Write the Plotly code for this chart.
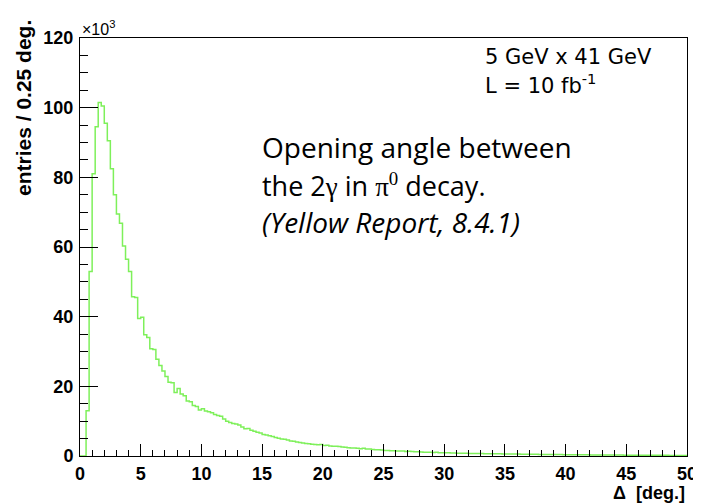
import plotly.graph_objects as go

# Histogram: entries per 0.25 deg bin, in units of 10^3
bin_width = 0.25
counts = [
    0, 0, 13, 53, 81, 94.5, 101.5, 100.5, 95.5, 90.5,
    82.5, 75, 69.5, 66.8, 60.3, 56.5, 53, 45.7, 45.5, 39.5,
    39.8, 34.8, 34.0, 30.8, 30.6, 27.8, 26.0, 24.4, 22.8, 21.2,
    21.0, 18.2, 19.4, 17.8, 17.3, 15.8, 15.6, 14.5, 14.2, 13.2,
    13.6, 12.9, 12.7, 12.4, 11.9, 11.6, 11.4, 10.6, 10.0, 9.6,
    9.3, 9.2, 8.9, 8.3, 7.8, 7.9, 7.4, 7.1, 6.8, 6.6,
    6.2, 6.0, 5.8, 5.6, 5.3, 5.1, 4.9, 4.8, 4.6, 4.3,
    4.2, 4.0, 3.9, 3.7, 3.6, 3.5, 3.4, 3.3, 3.2, 3.3,
    3.0, 3.1, 2.9, 2.8, 2.8, 2.7, 2.6, 2.5, 2.4, 2.3,
    2.3, 2.2, 2.1, 2.2, 2.0, 2.0, 1.9, 1.8, 1.8, 1.7,
    1.6, 1.6, 1.5, 1.5, 1.4, 1.4, 1.4, 1.3, 1.35, 1.3,
    1.2, 1.25, 1.15, 1.1, 1.1, 1.05, 1.0, 1.05, 0.95, 0.95,
    0.9, 0.92, 0.88, 0.85, 0.82, 0.8, 0.8, 0.78, 0.75, 0.74,
    0.72, 0.7, 0.7, 0.68, 0.66, 0.66, 0.64, 0.62, 0.63, 0.6,
    0.58, 0.57, 0.56, 0.55, 0.54, 0.52, 0.52, 0.5, 0.49, 0.48,
    0.47, 0.46, 0.45, 0.44, 0.43, 0.43, 0.42, 0.41, 0.4, 0.39,
    0.38, 0.37, 0.37, 0.36, 0.35, 0.34, 0.34, 0.33, 0.32, 0.31,
    0.31, 0.3, 0.29, 0.29, 0.28, 0.28, 0.27, 0.26, 0.26, 0.25,
    0.25, 0.24, 0.23, 0.23, 0.22, 0.22, 0.21, 0.21, 0.2, 0.2,
    0.19, 0.19, 0.18, 0.18, 0.17, 0.17, 0.16, 0.16, 0.15, 0.15,
]
edges = [i * bin_width for i in range(len(counts) + 1)]
y_step = counts + [counts[-1]]

x_ticks = [0, 5, 10, 15, 20, 25, 30, 35, 40, 45, 50]
y_ticks = [0, 20, 40, 60, 80, 100, 120]

fig = go.Figure()
fig.add_trace(go.Scatter(
    x=edges, y=y_step, mode="lines", line_shape="hv",
    line=dict(color="#7ef05a", width=1.5), showlegend=False, hoverinfo="skip",
))

tickfont = dict(family="Liberation Sans", size=18, color="black", weight="bold")
fig.update_layout(
    width=701, height=503,
    margin=dict(l=72, r=12, t=30, b=55),
    paper_bgcolor="white", plot_bgcolor="white",
    xaxis=dict(range=[0, 50], tickvals=x_ticks, ticks="inside", ticklen=12,
               tickcolor="black", tickwidth=1, showline=True, linecolor="black",
               linewidth=1, mirror=True, showgrid=False, zeroline=False,
               tickfont=tickfont, ticklabelstandoff=1,
               minor=dict(dtick=1, ticks="inside", ticklen=6, tickcolor="black", showgrid=False)),
    yaxis=dict(range=[0, 120], tickvals=y_ticks, ticks="inside", ticklen=18,
               tickcolor="black", tickwidth=1, showline=True, linecolor="black",
               linewidth=1, mirror=True, showgrid=False, zeroline=False,
               tickfont=tickfont, ticklabelstandoff=2,
               minor=dict(dtick=5, ticks="inside", ticklen=8, tickcolor="black", showgrid=False)),
)

anns = [
    dict(text="×10<sup>3</sup>", x=0, y=1.0, xanchor="left", yanchor="bottom", yshift=-2,
         font=dict(family="Liberation Sans", size=16, color="black")),
    dict(text="<b>entries / 0.25 deg.</b>", x=-0.092, y=0.833, xanchor="center", yanchor="middle",
         textangle=-90, font=dict(family="Liberation Sans", size=21, color="black")),
    dict(text="<b>Δ&nbsp; [deg.]</b>", x=1.0, y=-0.1172, xanchor="right", yanchor="bottom",
         font=dict(family="Liberation Sans", size=18, color="black")),
    dict(text="5 GeV x 41 GeV", x=0.664, y=0.955, xanchor="left", yanchor="middle",
         font=dict(family="DejaVu Sans", size=21, color="black")),
    dict(text="L = 10 fb<sup>-1</sup>", x=0.664, y=0.89, xanchor="left", yanchor="middle",
         font=dict(family="DejaVu Sans", size=21, color="black")),
    dict(text="Opening angle between", x=0.296, y=0.739, xanchor="left", yanchor="middle",
         font=dict(family="Open Sans", size=28, color="black")),
    dict(text="the 2<span style='font-family:Liberation Serif'>γ</span> in <span style='font-family:Liberation Serif'>π<sup>0</sup></span> decay.",
         x=0.296, y=0.648, xanchor="left", yanchor="middle",
         font=dict(family="Open Sans", size=27, color="black")),
    dict(text="<i>(Yellow Report, 8.4.1)</i>", x=0.296, y=0.56, xanchor="left", yanchor="middle",
         font=dict(family="Open Sans", size=28, color="black")),
]
for a in anns:
    a.update(xref="paper", yref="paper", showarrow=False)
fig.update_layout(annotations=anns)

fig.write_html("out.html")
